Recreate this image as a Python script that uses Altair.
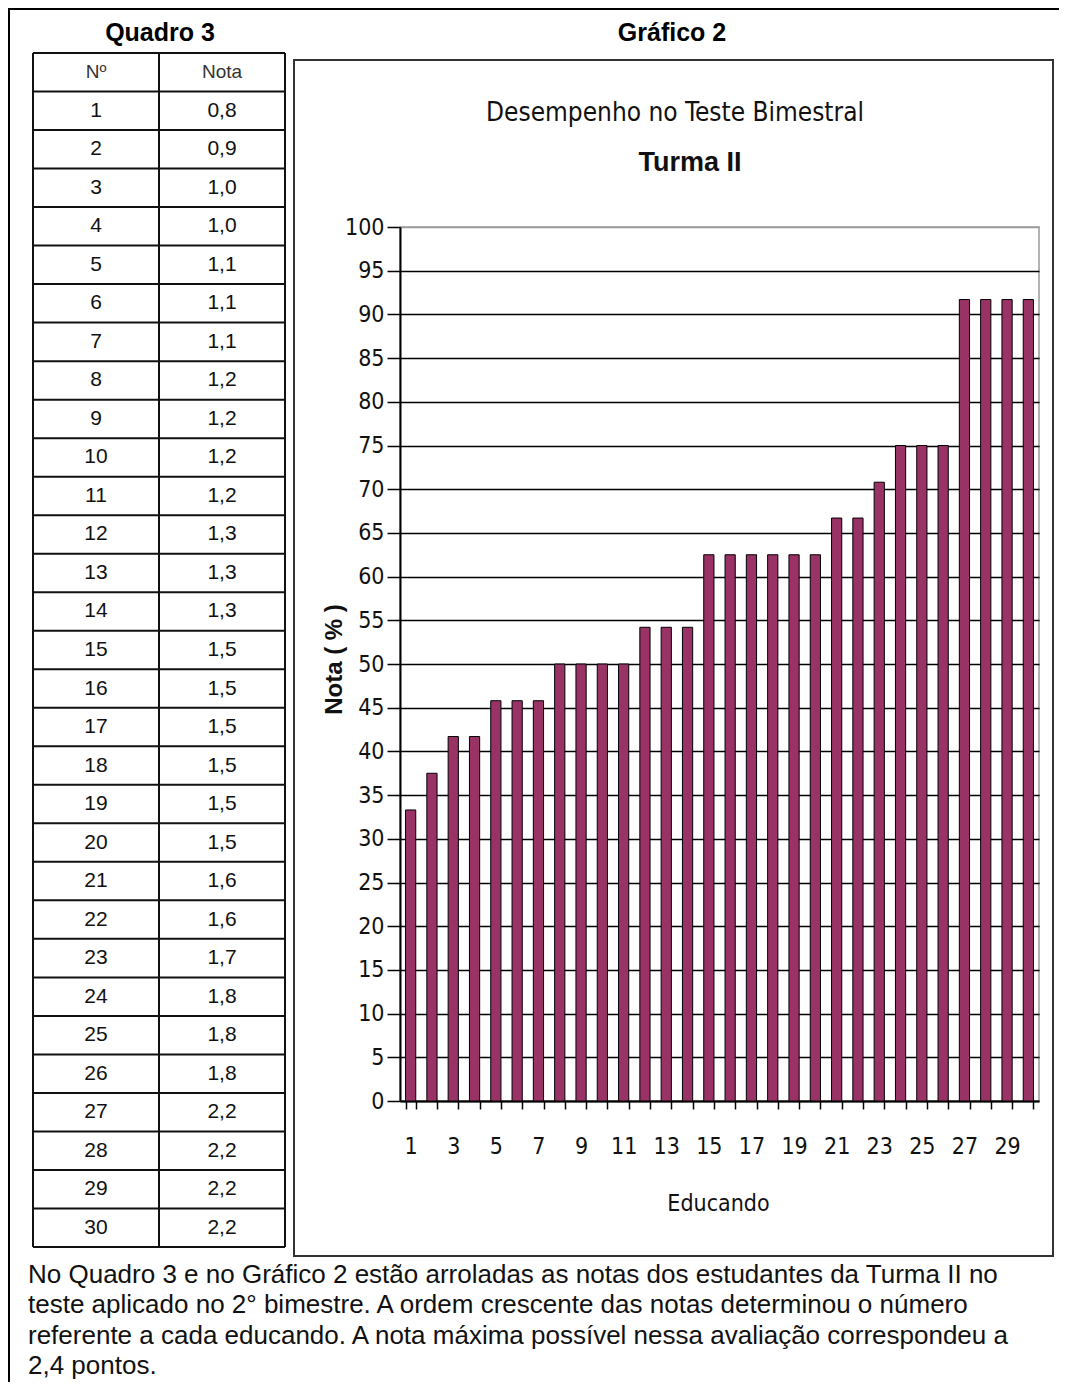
import altair as alt
import pandas as pd

# ---------------- data ----------------
educando = list(range(1, 31))
nota_pct = [33.3, 37.5, 41.7, 41.7, 45.8, 45.8, 45.8, 50.0, 50.0, 50.0,
            50.0, 54.2, 54.2, 54.2, 62.5, 62.5, 62.5, 62.5, 62.5, 62.5,
            66.7, 66.7, 70.8, 75.0, 75.0, 75.0, 91.7, 91.7, 91.7, 91.7]
nota_str = ["0,8", "0,9", "1,0", "1,0", "1,1", "1,1", "1,1", "1,2", "1,2", "1,2",
            "1,2", "1,3", "1,3", "1,3", "1,5", "1,5", "1,5", "1,5", "1,5", "1,5",
            "1,6", "1,6", "1,7", "1,8", "1,8", "1,8", "2,2", "2,2", "2,2", "2,2"]
y_ticks = list(range(0, 101, 5))
table_header = ["Nº", "Nota"]
paragraph = [
    "No Quadro 3 e no Gráfico 2 estão arroladas as notas dos estudantes da Turma II no",
    "teste aplicado no 2° bimestre. A ordem crescente das notas determinou o número",
    "referente a cada educando. A nota máxima possível nessa avaliação correspondeu a",
    "2,4 pontos.",
]
label_quadro = "Quadro 3"
label_grafico = "Gráfico 2"
chart_title = "Desempenho no Teste Bimestral"
chart_subtitle = "Turma II"

# ---------------- styles ----------------
NARROW = "'Liberation Sans Narrow', 'Arial Narrow', 'DejaVu Sans Condensed', sans-serif"
ARIAL = "'Liberation Sans', Arial, Helvetica, sans-serif"
BAR = "#993366"

PW, PH = 639, 874
TAB_X = [-367, -115]
TAB_Y = [-174, 1020]

df_bars = pd.DataFrame({"Educando": educando, "Nota": nota_pct})

rows_hdr = pd.DataFrame({"row": [0, 0], "col": table_header, "txt": table_header})
rows_body = pd.DataFrame({
    "row": [i for i in educando for _ in range(2)],
    "col": [c for _ in educando for c in table_header],
    "txt": [t for n, s in zip(educando, nota_str) for t in (str(n), s)],
})
df_hlines = pd.DataFrame({"b": list(range(len(educando) + 2))})
df_vlines = pd.DataFrame({"c": [0, 1, 2]})
df_par = pd.DataFrame({"i": list(range(len(paragraph))), "txt": paragraph})
one = pd.DataFrame({"k": [0]})

# ---------------- bar chart ----------------
bars = alt.Chart(df_bars).mark_bar(color=BAR, stroke="black", strokeWidth=1).encode(
    x=alt.X("Educando:O",
            scale=alt.Scale(paddingInner=0.52, paddingOuter=0.26),
            axis=alt.Axis(title="Educando", labelAngle=0, tickBand="extent",
                          labelExpr="datum.value % 2 == 1 ? datum.label : ''",
                          tickSize=8, tickWidth=1.5, tickColor="black",
                          domainColor="black", domainWidth=2,
                          labelFont=NARROW, labelFontSize=23, labelColor="#111",
                          labelPadding=37, labelBaseline="middle", labelOverlap=False,
                          titleFont=NARROW, titleFontSize=23, titleFontWeight="normal",
                          titleColor="#111", titleX=318, titleY=102,
                          titleAlign="center", titleBaseline="middle", grid=False)),
    y=alt.Y("Nota:Q",
            scale=alt.Scale(domain=[0, 100], nice=False),
            axis=alt.Axis(values=y_ticks, title="Nota ( % )", grid=True,
                          gridColor={"condition": {"test": "datum.value === 100", "value": "#9a9a9a"},
                                     "value": "black"},
                          gridWidth=1.5, domainColor="black", domainWidth=2,
                          tickColor="black", tickWidth=1.5, tickSize=13,
                          labelFont=NARROW, labelFontSize=23, labelColor="#111",
                          labelPadding=3, labelOverlap=False,
                          titleFont=ARIAL, titleFontWeight="bold", titleFontSize=24,
                          titleColor="#111", titleX=-66, titleY=432, titleAngle=270,
                          titleAlign="center", titleBaseline="middle")),
)

# ---------------- frames ----------------
frame = alt.Chart(one).mark_rect(fillOpacity=0, stroke="#333", strokeWidth=2).encode(
    x=alt.value(-106), x2=alt.value(653), y=alt.value(-167), y2=alt.value(1029))
outer_left = alt.Chart(one).mark_rule(color="black", strokeWidth=2).encode(
    x=alt.value(-391), y=alt.value(-219), y2=alt.value(1155))
outer_top = alt.Chart(one).mark_rule(color="black", strokeWidth=2).encode(
    y=alt.value(-218), x=alt.value(-392), x2=alt.value(659))

# ---------------- titles ----------------
t_quadro = alt.Chart(one).mark_text(font=ARIAL, fontWeight="bold", fontSize=25, baseline="middle").encode(
    x=alt.value(-240), y=alt.value(-194), text=alt.value(label_quadro))
t_grafico = alt.Chart(one).mark_text(font=ARIAL, fontWeight="bold", fontSize=25, baseline="middle").encode(
    x=alt.value(272), y=alt.value(-194), text=alt.value(label_grafico))
t_title = alt.Chart(one).mark_text(font=NARROW, fontSize=26, baseline="middle", color="#111").encode(
    x=alt.value(275), y=alt.value(-114), text=alt.value(chart_title))
t_sub = alt.Chart(one).mark_text(font=ARIAL, fontWeight="bold", fontSize=27, baseline="middle", color="#111").encode(
    x=alt.value(290), y=alt.value(-64), text=alt.value(chart_subtitle))

# ---------------- table ----------------
xs_band = alt.Scale(type="band", domain=table_header, range=TAB_X, paddingInner=0, paddingOuter=0)
ys_band = alt.Scale(type="band", domain=list(range(len(educando) + 1)), range=TAB_Y,
                    paddingInner=0, paddingOuter=0)

tab_hdr = alt.Chart(rows_hdr).mark_text(font=ARIAL, fontSize=19, baseline="middle", color="#333").encode(
    x=alt.X("col:N", scale=xs_band, axis=None),
    y=alt.Y("row:O", scale=ys_band, axis=None),
    text="txt:N")
tab_body = alt.Chart(rows_body).mark_text(font=ARIAL, fontSize=21, baseline="middle", color="#111").encode(
    x=alt.X("col:N", scale=xs_band, axis=None),
    y=alt.Y("row:O", scale=ys_band, axis=None),
    text="txt:N")
tab_h = alt.Chart(df_hlines).mark_rule(color="#111", strokeWidth=2).encode(
    y=alt.Y("b:Q", scale=alt.Scale(domain=[0, len(educando) + 1], range=TAB_Y, nice=False, zero=False), axis=None),
    x=alt.value(TAB_X[0]), x2=alt.value(TAB_X[1]))
tab_v = alt.Chart(df_vlines).mark_rule(color="#111", strokeWidth=2).encode(
    x=alt.X("c:Q", scale=alt.Scale(domain=[0, 2], range=TAB_X, nice=False, zero=False), axis=None),
    y=alt.value(TAB_Y[0]), y2=alt.value(TAB_Y[1]))

# ---------------- paragraph ----------------
par = alt.Chart(df_par).mark_text(font=ARIAL, fontSize=26, align="left", baseline="middle", color="#111").encode(
    y=alt.Y("i:Q", scale=alt.Scale(domain=[0, 3], range=[1048, 1139], nice=False, zero=False), axis=None),
    x=alt.value(-372),
    text="txt:N")

chart = alt.layer(
    frame, outer_left, outer_top, t_quadro, t_grafico, t_title, t_sub,
    tab_h, tab_v, tab_hdr, tab_body, par, bars,
).resolve_scale(x="independent", y="independent").properties(
    width=PW, height=PH,
    autosize=alt.AutoSizeParams(type="none"),
    padding={"left": 392, "top": 219, "right": 20, "bottom": 281},
    background="white",
).configure_view(stroke="#9a9a9a", strokeWidth=1.5)

chart.save("out.html", embed_options={"renderer": "svg", "actions": False})
